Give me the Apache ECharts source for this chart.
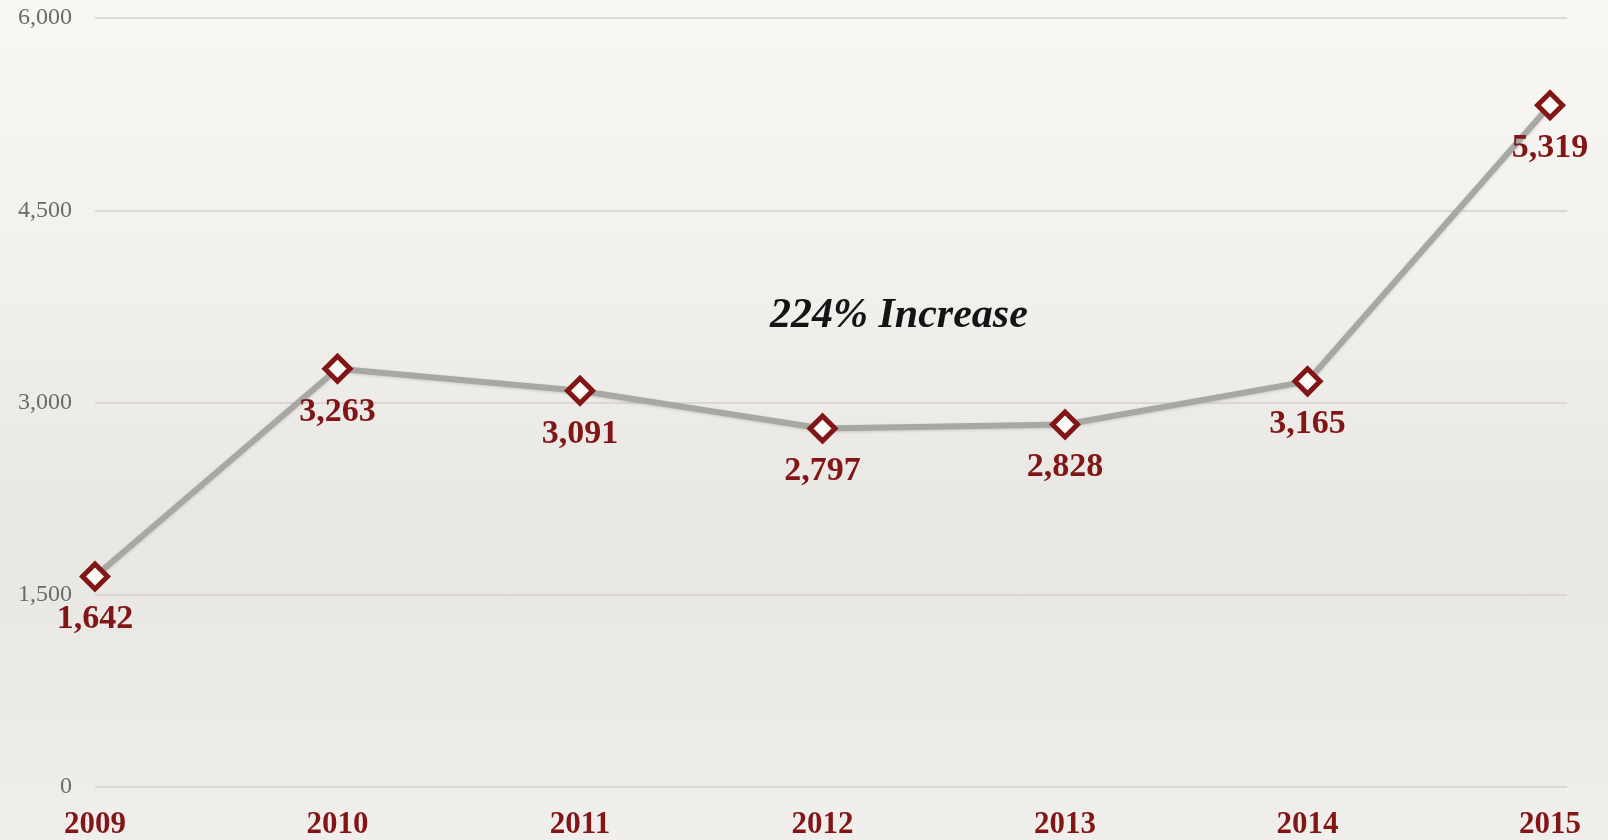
<!DOCTYPE html>
<html>
<head>
<meta charset="utf-8">
<style>
html,body{margin:0;padding:0;width:1608px;height:840px;overflow:hidden;}
body{background:linear-gradient(to bottom,#f9f7f4 0%,#f3f1ed 30%,#e9e7e3 62%,#ebe9e5 80%,#f1efec 100%);}
#c{width:1608px;height:840px;}
</style>
<script src="https://cdn.jsdelivr.net/npm/echarts@6/dist/echarts.min.js"></script>
</head>
<body>
<div id="c"></div>
<script>
const years = ['2009','2010','2011','2012','2013','2014','2015'];
const visitors = [1642, 3263, 3091, 2797, 2828, 3165, 5319];
const yTicks = [0, 1500, 3000, 4500, 6000];
const annotation = '224% Increase';

const chart = echarts.init(document.getElementById('c'), null, {renderer:'canvas'});
const darkRed = '#821616';
const serif = '"Liberation Serif","DejaVu Serif",serif';

chart.setOption({
  backgroundColor: 'transparent',
  animation: false,
  grid: {left: 95, right: 41, top: 18, bottom: 53},
  xAxis: {
    type: 'value',
    min: 0,
    max: 6.07,
    interval: 1,
    axisLine: {show: false},
    axisTick: {show: false},
    splitLine: {show: false},
    axisLabel: {
      margin: 22,
      showMaxLabel: false,
      formatter: v => (Number.isInteger(v) && years[v]) ? years[v] : '',
      color: darkRed,
      fontFamily: serif,
      fontWeight: 'bold',
      fontSize: 31
    }
  },
  yAxis: {
    type: 'value',
    min: yTicks[0],
    max: yTicks[yTicks.length-1],
    interval: 1500,
    axisLine: {show: false},
    axisTick: {show: false},
    splitLine: {lineStyle: {color: '#d3d1cd', width: 1.5}},
    axisLabel: {
      margin: 23,
      color: '#6a6a6a',
      fontFamily: serif,
      fontSize: 24,
      formatter: v => v.toLocaleString('en-US')
    }
  },
  graphic: [{
    type: 'text',
    left: 770,
    top: 295,
    style: {
      text: annotation,
      font: 'italic bold 42px "Liberation Serif","DejaVu Serif",serif',
      fill: '#141414'
    }
  }],
  series: [{
    type: 'line',
    data: visitors.map((v,i) => [i, v]),
    symbol: 'diamond',
    symbolSize: 25,
    lineStyle: {color: '#a7a7a3', width: 6, shadowColor: 'rgba(0,0,0,0.15)', shadowBlur: 3, shadowOffsetY: 1},
    itemStyle: {color: '#fbfaf8', borderColor: darkRed, borderWidth: 5},
    label: {
      show: true,
      position: 'bottom',
      distance: 11,
      formatter: p => p.value[1].toLocaleString('en-US'),
      color: darkRed,
      fontFamily: serif,
      fontWeight: 'bold',
      fontSize: 34
    },
    z: 3
  }]
});
</script>
</body>
</html>
